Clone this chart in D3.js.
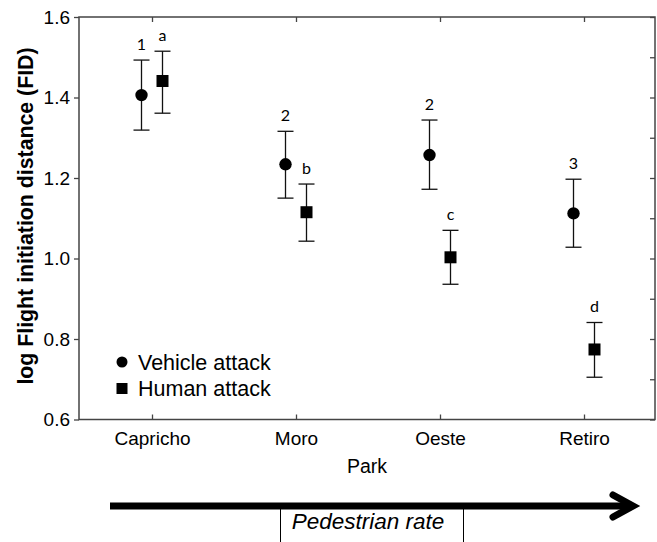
<!DOCTYPE html>
<html><head><meta charset="utf-8">
<script src="https://cdn.jsdelivr.net/npm/d3@7"></script>
<style>body{margin:0;background:#fff}</style>
</head><body>
<svg id="c" width="657" height="542"></svg>
<script>
const parks = ["Capricho", "Moro", "Oeste", "Retiro"];
const vehicleMean = [1.406, 1.234, 1.257, 1.112];
const vehicleLow  = [1.319, 1.150, 1.172, 1.028];
const vehicleHigh = [1.493, 1.316, 1.344, 1.197];
const vehicleLetters = ["1", "2", "2", "3"];
const humanMean = [1.441, 1.115, 1.003, 0.774];
const humanLow  = [1.361, 1.043, 0.936, 0.705];
const humanHigh = [1.515, 1.185, 1.070, 0.841];
const humanLetters = ["a", "b", "c", "d"];
const yTicks = [0.6, 0.8, 1.0, 1.2, 1.4, 1.6];
const yMinorTicks = [0.6, 0.7, 0.8, 0.9, 1.0, 1.1, 1.2, 1.3, 1.4, 1.5, 1.6];

const svg = d3.select("#c");
const L = 79, R = 655, T = 17, B = 419.5;
const x = d3.scalePoint().domain(parks).range([152, 584]);
const y = d3.scaleLinear().domain([0.6, 1.6]).range([B, T]);
const off = 10.5;
const axisColor = "#444";
const font = "Liberation Sans, Arial, sans-serif";

// frame
svg.append("rect").attr("x", L).attr("y", T).attr("width", R - L).attr("height", B - T)
  .attr("fill", "none").attr("stroke", axisColor).attr("stroke-width", 1.5);

// left axis
const gl = svg.append("g").attr("transform", `translate(${L},0)`)
  .call(d3.axisLeft(y).tickValues(yTicks).tickFormat(d3.format(".1f")).tickSize(5).tickPadding(4));
// right axis (inward ticks)
const gr = svg.append("g").attr("transform", `translate(${R},0)`)
  .call(d3.axisLeft(y).tickValues(yMinorTicks).tickFormat("").tickSize(0));
gr.selectAll(".tick line").attr("x2", -5);
// bottom axis (inward ticks)
const gb = svg.append("g").attr("transform", `translate(0,${B})`)
  .call(d3.axisBottom(x).tickSize(0).tickPadding(12));
gb.selectAll(".tick line").attr("y2", -5);
// top axis (inward ticks)
const gt = svg.append("g").attr("transform", `translate(0,${T})`)
  .call(d3.axisTop(x).tickFormat("").tickSize(0));
gt.selectAll(".tick line").attr("y2", 5);

[gl, gr, gb, gt].forEach(g => {
  g.select(".domain").remove();
  g.selectAll(".tick line").attr("stroke", axisColor).attr("stroke-width", 1.3);
  g.selectAll("text").attr("fill", "#000").style("font-family", font).style("font-size", "19px");
});

// axis titles
svg.append("text").attr("x", (L + R) / 2).attr("y", 473).attr("text-anchor", "middle")
  .style("font-family", font).style("font-size", "19.5px").text("Park");
svg.append("text").attr("transform", `translate(33,216) rotate(-90)`)
  .attr("text-anchor", "middle").style("font-family", font).style("font-size", "21.3px")
  .style("font-weight", "bold").text("log Flight initiation distance (FID)");

function drawSeries(mean, low, high, letters, dx, shape) {
  const g = svg.append("g");
  parks.forEach((p, i) => {
    const cx = x(p) + dx;
    g.append("line").attr("x1", cx).attr("x2", cx).attr("y1", y(low[i])).attr("y2", y(high[i]))
      .attr("stroke", "#111").attr("stroke-width", 1.3);
    [low[i], high[i]].forEach(v => g.append("line").attr("x1", cx - 8).attr("x2", cx + 8)
      .attr("y1", y(v)).attr("y2", y(v)).attr("stroke", "#111").attr("stroke-width", 1.3));
    if (shape === "circle") {
      g.append("circle").attr("cx", cx).attr("cy", y(mean[i])).attr("r", 6.2).attr("fill", "#000");
    } else {
      g.append("rect").attr("x", cx - 6).attr("y", y(mean[i]) - 6).attr("width", 12).attr("height", 12).attr("fill", "#000");
    }
    g.append("text").attr("x", cx).attr("y", y(high[i]) - 10).attr("text-anchor", "middle")
      .style("font-family", "Lato, Open Sans, sans-serif").style("font-size", "16px").text(letters[i]);
  });
}
drawSeries(vehicleMean, vehicleLow, vehicleHigh, vehicleLetters, -off, "circle");
drawSeries(humanMean, humanLow, humanHigh, humanLetters, off, "square");

// legend
svg.append("circle").attr("cx", 122).attr("cy", 362).attr("r", 5.5).attr("fill", "#000");
svg.append("rect").attr("x", 116.5).attr("y", 383).attr("width", 11).attr("height", 11).attr("fill", "#000");
svg.append("text").attr("x", 138).attr("y", 369.5).style("font-family", font).style("font-size", "21.5px").text("Vehicle attack");
svg.append("text").attr("x", 138).attr("y", 395.5).style("font-family", font).style("font-size", "21.5px").text("Human attack");

// pedestrian arrow
svg.append("line").attr("x1", 110).attr("x2", 630).attr("y1", 506).attr("y2", 506)
  .attr("stroke", "#000").attr("stroke-width", 7);
svg.append("path").attr("d", "M613,495 L633,506 L613,517").attr("fill", "none")
  .attr("stroke", "#000").attr("stroke-width", 7).attr("stroke-linecap", "round").attr("stroke-linejoin", "miter");
svg.append("line").attr("x1", 280.5).attr("x2", 280.5).attr("y1", 506).attr("y2", 542).attr("stroke", "#000").attr("stroke-width", 1);
svg.append("line").attr("x1", 463.5).attr("x2", 463.5).attr("y1", 506).attr("y2", 542).attr("stroke", "#000").attr("stroke-width", 1);
svg.append("text").attr("x", 368).attr("y", 529).attr("text-anchor", "middle")
  .style("font-family", font).style("font-size", "22.5px").style("font-style", "italic").text("Pedestrian rate");
</script>
</body></html>
